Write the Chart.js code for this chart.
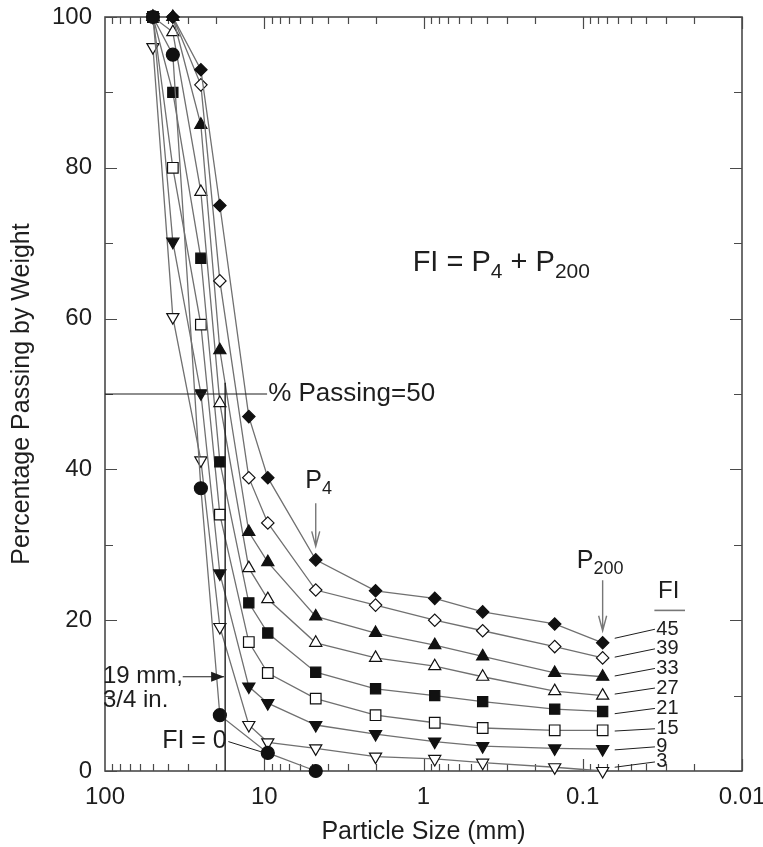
<!DOCTYPE html>
<html>
<head>
<meta charset="utf-8">
<script src="https://cdn.jsdelivr.net/npm/chart.js@4.4.1/dist/chart.umd.min.js"></script>
<style>
  html, body { margin: 0; padding: 0; background: #ffffff; }
  #wrap { width: 763px; height: 847px; }
</style>
</head>
<body>
<div id="wrap"><canvas id="gradation" width="763" height="847"></canvas></div>
<script>
// Sieve openings (mm) and percent passing for each gradation curve
const sieveSizes = [50, 37.5, 25, 19, 12.5, 9.5, 4.75, 2.0, 0.85, 0.425, 0.15, 0.075];
const passFI45 = [100, 100, 93, 75, 47, 38.9, 28, 23.9, 22.9, 21.1, 19.5, 17];
const passFI39 = [100, 100, 91, 65, 38.9, 32.9, 24, 22, 20, 18.6, 16.5, 15];
const passFI33 = [100, 100, 85.7, 55.8, 31.7, 27.7, 20.5, 18.3, 16.7, 15.2, 13, 12.5];
const passFI27 = [100, 98, 76.8, 48.8, 26.9, 22.8, 17, 15, 13.9, 12.5, 10.6, 10];
const passFI21 = [100, 90, 68, 41, 22.3, 18.3, 13.1, 10.9, 10, 9.2, 8.2, 7.9];
const passFI15 = [100, 80, 59.2, 34, 17.1, 13, 9.6, 7.4, 6.4, 5.7, 5.4, 5.4];
const passFI9  = [100, 70.2, 50.1, 26.2, 11.2, 9, 6.1, 4.9, 3.9, 3.3, 3, 2.9];
const passFI3  = [96, 60.2, 41.2, 19.1, 6.1, 3.8, 3, 1.9, 1.6, 1.1, 0.5, 0];
const passFI0  = [100, 95, 37.5, 7.4, null, 2.4, 0, null, null, null, null, null];

// Axis ticks
const xTickValues = [100, 10, 1, 0.1, 0.01];
const xTickLabels = ['100', '10', '1', '0.1', '0.01'];
const yTickValues = [0, 20, 40, 60, 80, 100];

// Reference lines
const passing50 = 50;
const sieve19Line = 17.6;
const sieveNo4 = 4.75;
const sieveNo200 = 0.075;

const FONT = '"Liberation Sans", Arial, Helvetica, sans-serif';
const INK = '#1e1e1e';
const CURVE = '#707070';

function pts(values) {
  return sieveSizes.map((s, i) => ({ x: s, y: values[i] }));
}

// Curve styles: marker shape, filled or hollow
const curves = [
  { values: passFI3,  style: 'triangle', rot: 180, filled: false, r: 7,   order: 9 },
  { values: passFI9,  style: 'triangle', rot: 180, filled: true,  r: 7,   order: 8 },
  { values: passFI15, style: 'rect',     rot: 0,   filled: false, r: 7.5, order: 7 },
  { values: passFI21, style: 'rect',     rot: 0,   filled: true,  r: 7.2, order: 6 },
  { values: passFI27, style: 'triangle', rot: 0,   filled: false, r: 7,   order: 5 },
  { values: passFI33, style: 'triangle', rot: 0,   filled: true,  r: 7,   order: 4 },
  { values: passFI39, style: 'rectRot',  rot: 0,   filled: false, r: 6.2, order: 3 },
  { values: passFI45, style: 'rectRot',  rot: 0,   filled: true,  r: 6.2, order: 2 },
  { values: passFI0,  style: 'circle',   rot: 0,   filled: true,  r: 6.5, order: 1 }
];

const datasets = curves.map(c => ({
  data: pts(c.values),
  borderColor: CURVE,
  borderWidth: 1.3,
  pointStyle: c.style,
  pointRotation: c.rot,
  pointRadius: c.r,
  pointHoverRadius: c.r,
  pointBackgroundColor: c.filled ? '#111111' : '#ffffff',
  pointBorderColor: '#111111',
  pointBorderWidth: 1.2,
  tension: 0,
  spanGaps: true,
  clip: false,
  order: c.order
}));

// FI index of each curve = P4 + P200
const fiCurves = [passFI45, passFI39, passFI33, passFI27, passFI21, passFI15, passFI9, passFI3];
const i4 = sieveSizes.indexOf(sieveNo4);
const i200 = sieveSizes.indexOf(sieveNo200);
const fiValues = fiCurves.map(v => Math.round(v[i4] + v[i200]));

// Where each FI label sits (passing %) and where its leader starts
const fiLabelLevel = [18.8, 16.2, 13.6, 11.0, 8.3, 5.6, 3.2, 1.2];
const fiLeaderStart = [17.6, 15.1, 12.6, 10.2, 7.6, 5.3, 2.8, 0.5];

function setFont(ctx, size) { ctx.font = size + 'px ' + FONT; }

function textWithSubs(ctx, x, y, parts, size, subSize, drop) {
  let cx = x;
  ctx.textBaseline = 'alphabetic';
  ctx.textAlign = 'left';
  parts.forEach(([t, sub]) => {
    setFont(ctx, sub ? subSize : size);
    ctx.fillText(t, cx, sub ? y + drop : y);
    cx += ctx.measureText(t).width;
  });
}

function filledArrow(ctx, x1, y1, x2, y2, head, half) {
  ctx.beginPath(); ctx.moveTo(x1, y1); ctx.lineTo(x2, y2); ctx.stroke();
  const a = Math.atan2(y2 - y1, x2 - x1);
  ctx.beginPath();
  ctx.moveTo(x2, y2);
  ctx.lineTo(x2 - head * Math.cos(a) + half * Math.sin(a), y2 - head * Math.sin(a) - half * Math.cos(a));
  ctx.lineTo(x2 - head * Math.cos(a) - half * Math.sin(a), y2 - head * Math.sin(a) + half * Math.cos(a));
  ctx.closePath(); ctx.fill();
}

function openArrow(ctx, x1, y1, x2, y2, head, half) {
  const a = Math.atan2(y2 - y1, x2 - x1);
  ctx.beginPath();
  ctx.moveTo(x1, y1); ctx.lineTo(x2, y2);
  ctx.moveTo(x2 - head * Math.cos(a) + half * Math.sin(a), y2 - head * Math.sin(a) - half * Math.cos(a));
  ctx.lineTo(x2, y2);
  ctx.lineTo(x2 - head * Math.cos(a) - half * Math.sin(a), y2 - head * Math.sin(a) + half * Math.cos(a));
  ctx.stroke();
}

// Frame with inward ticks on all four sides
const framePlugin = {
  id: 'frame',
  beforeDatasetsDraw(chart) {
    const { ctx, chartArea: a, scales: { x, y } } = chart;
    ctx.save();
    ctx.strokeStyle = '#4a4a4a';
    ctx.lineWidth = 1.6;
    ctx.strokeRect(a.left, a.top, a.right - a.left, a.bottom - a.top);
    ctx.lineWidth = 1.2;
    ctx.beginPath();
    for (let v = 0; v <= 100; v += 10) {
      const py = Math.round(y.getPixelForValue(v)) + 0.5;
      const len = v % 20 === 0 ? 12 : 8;
      ctx.moveTo(a.left, py); ctx.lineTo(a.left + len, py);
      ctx.moveTo(a.right, py); ctx.lineTo(a.right - len, py);
    }
    for (let e = -2; e < 2; e++) {
      for (let m = 1; m <= 9; m++) {
        const v = m * Math.pow(10, e);
        const px = Math.round(x.getPixelForValue(v)) + 0.5;
        const len = m === 1 ? 12 : 7;
        ctx.moveTo(px, a.bottom); ctx.lineTo(px, a.bottom - len);
        ctx.moveTo(px, a.top); ctx.lineTo(px, a.top + len);
      }
    }
    ctx.stroke();
    ctx.restore();
  }
};

// Annotations: 50 % line, 19 mm sieve, P4 / P200 markers, FI labels
const notePlugin = {
  id: 'notes',
  afterDatasetsDraw(chart) {
    const { ctx, scales: { x, y } } = chart;
    const X = v => x.getPixelForValue(v);
    const Y = v => y.getPixelForValue(v);
    ctx.save();
    ctx.fillStyle = INK;
    ctx.strokeStyle = INK;

    // % passing = 50 line and label
    ctx.lineWidth = 1.2;
    ctx.beginPath();
    ctx.moveTo(X(100), Y(passing50)); ctx.lineTo(X(9.6), Y(passing50));
    ctx.stroke();
    setFont(ctx, 26);
    ctx.textAlign = 'left'; ctx.textBaseline = 'middle';
    ctx.fillText('% Passing=50', X(9.45), Y(passing50));

    // 19 mm sieve line
    ctx.lineWidth = 1.4;
    ctx.beginPath();
    ctx.moveTo(X(sieve19Line), Y(51.5)); ctx.lineTo(X(sieve19Line), Y(0));
    ctx.stroke();
    ctx.lineWidth = 1.2;
    filledArrow(ctx, X(32.5), Y(12.5), X(sieve19Line) - 1, Y(12.5), 13, 5);
    setFont(ctx, 24);
    ctx.textAlign = 'left'; ctx.textBaseline = 'middle';
    ctx.fillText('19 mm,', X(103), Y(12.5));
    ctx.fillText('3/4 in.', X(103), Y(9.4));

    // FI = 0 callout
    setFont(ctx, 25);
    ctx.textAlign = 'right';
    ctx.fillText('FI = 0', X(17.2), Y(3.9));
    ctx.lineWidth = 1;
    ctx.beginPath();
    ctx.moveTo(X(16.8), Y(3.9)); ctx.lineTo(X(10.3), Y(2.5));
    ctx.stroke();

    // P4 and P200 markers
    ctx.fillStyle = INK;
    textWithSubs(ctx, X(5.52), Y(37.5), [['P', false], ['4', true]], 25, 18, 6);
    textWithSubs(ctx, X(0.109), Y(26.9), [['P', false], ['200', true]], 25, 18, 6);
    ctx.strokeStyle = '#777777';
    ctx.lineWidth = 1.4;
    openArrow(ctx, X(sieveNo4), Y(35.5), X(sieveNo4), Y(29.8), 15, 4);
    openArrow(ctx, X(sieveNo200), Y(25.3), X(sieveNo200), Y(18.6), 15, 4);

    // Formula
    ctx.fillStyle = INK;
    textWithSubs(ctx, X(1.17), Y(66.3),
      [['FI = P', false], ['4', true], [' + P', false], ['200', true]], 29, 21, 7);

    // FI column
    setFont(ctx, 24);
    ctx.textAlign = 'left'; ctx.textBaseline = 'alphabetic';
    ctx.fillText('FI', X(0.0337), Y(22.9));
    ctx.strokeStyle = '#777777';
    ctx.lineWidth = 1.6;
    ctx.beginPath();
    ctx.moveTo(X(0.0355), Y(21.3)); ctx.lineTo(X(0.0228), Y(21.3));
    ctx.stroke();

    ctx.strokeStyle = INK;
    ctx.lineWidth = 1;
    setFont(ctx, 20);
    ctx.textBaseline = 'middle';
    fiValues.forEach((fi, k) => {
      ctx.beginPath();
      ctx.moveTo(X(0.063), Y(fiLeaderStart[k]));
      ctx.lineTo(X(0.0352), Y(fiLabelLevel[k]));
      ctx.stroke();
      ctx.fillText(String(fi), X(0.0345), Y(fiLabelLevel[k]));
    });
    ctx.restore();
  }
};

new Chart(document.getElementById('gradation'), {
  type: 'line',
  data: { datasets },
  options: {
    responsive: false,
    animation: false,
    events: [],
    layout: { padding: { top: 17, right: 21, left: 0, bottom: 0 } },
    plugins: { legend: { display: false }, tooltip: { enabled: false } },
    scales: {
      x: {
        type: 'logarithmic',
        reverse: true,
        min: 0.01,
        max: 100,
        afterBuildTicks: s => { s.ticks = xTickValues.map(v => ({ value: v })); },
        afterFit: s => { s.height = 76; s.paddingLeft = 0; s.paddingRight = 0; },
        ticks: {
          autoSkip: false,
          maxRotation: 0,
          padding: 12,
          color: INK,
          font: { family: FONT, size: 24 },
          callback: (v) => xTickLabels[xTickValues.indexOf(v)] ?? ''
        },
        grid: { display: false, drawTicks: false },
        border: { display: false },
        title: {
          display: true,
          text: 'Particle Size (mm)',
          color: INK,
          font: { family: FONT, size: 25 },
          padding: { top: 0, bottom: 0 }
        }
      },
      y: {
        type: 'linear',
        min: 0,
        max: 100,
        afterBuildTicks: s => { s.ticks = yTickValues.map(v => ({ value: v })); },
        afterFit: s => { s.width = 105; s.paddingTop = 0; s.paddingBottom = 0; },
        ticks: {
          padding: 13,
          color: INK,
          font: { family: FONT, size: 24 }
        },
        grid: { display: false, drawTicks: false },
        border: { display: false },
        title: {
          display: true,
          text: 'Percentage Passing by Weight',
          color: INK,
          font: { family: FONT, size: 25 },
          padding: { top: 7, bottom: 0 }
        }
      }
    }
  },
  plugins: [framePlugin, notePlugin]
});
</script>
</body>
</html>
